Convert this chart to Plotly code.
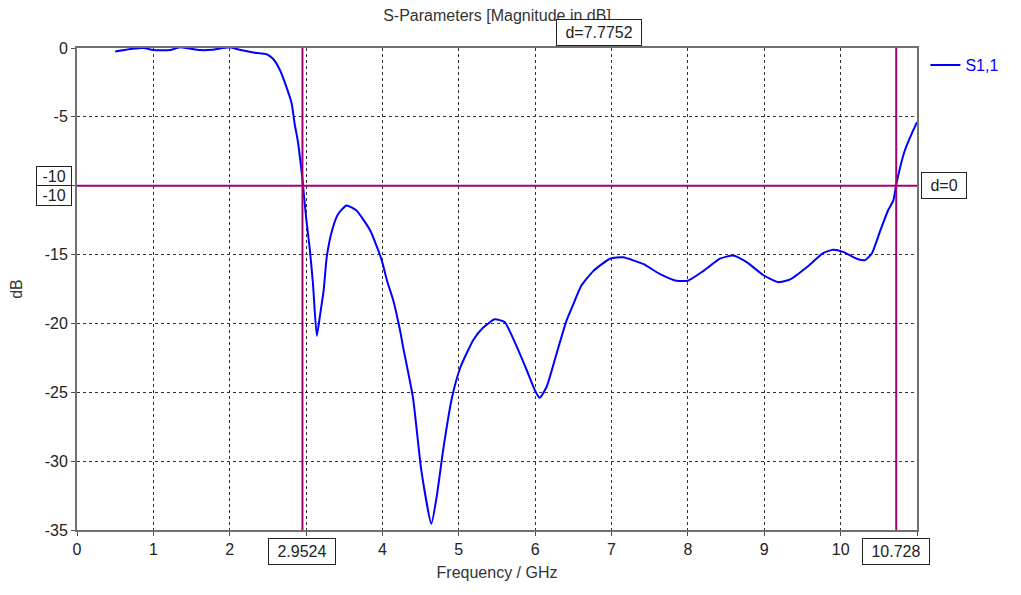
import plotly.graph_objects as go

freq_ghz = [0.5, 0.73, 0.87, 1.0, 1.22, 1.35, 1.61, 1.77, 2.0, 2.13, 2.31, 2.49, 2.57, 2.66,
            2.75, 2.81, 2.85, 2.89, 2.94, 2.96, 3.0, 3.05, 3.09, 3.14, 3.18, 3.23, 3.27, 3.34,
            3.42, 3.53, 3.66, 3.84, 3.99, 4.06, 4.14, 4.23, 4.27, 4.40, 4.51, 4.64, 4.71, 4.80,
            4.91, 5.02, 5.19, 5.32, 5.47, 5.60, 5.76, 5.89, 6.0, 6.06, 6.15, 6.28, 6.41, 6.5,
            6.6, 6.76, 6.98, 7.15, 7.42, 7.63, 7.85, 8.0, 8.2, 8.42, 8.59, 8.77, 8.99, 9.18,
            9.34, 9.56, 9.77, 9.9, 10.03, 10.21, 10.32, 10.41, 10.52, 10.62, 10.69, 10.73,
            10.84, 10.93, 11.0]
s11_db = [-0.25, -0.05, 0.0, -0.15, -0.15, 0.05, -0.15, -0.13, 0.05, -0.13, -0.33, -0.47,
          -0.8, -1.63, -2.95, -4.0, -5.5, -6.7, -8.9, -10.0, -12.3, -14.7, -17.1, -20.9,
          -19.5, -17.6, -15.2, -13.25, -12.05, -11.44, -11.8, -13.25, -15.4, -16.9, -18.3,
          -20.5, -21.7, -25.4, -30.7, -34.55, -32.6, -29.0, -25.4, -23.2, -21.2, -20.3,
          -19.7, -19.9, -21.7, -23.4, -24.9, -25.4, -24.6, -22.2, -19.8, -18.6, -17.3,
          -16.2, -15.3, -15.2, -15.7, -16.4, -16.9, -16.9, -16.2, -15.3, -15.07, -15.55,
          -16.5, -17.0, -16.8, -15.9, -14.9, -14.65, -14.8, -15.3, -15.4, -14.9, -13.25,
          -11.8, -11.07, -9.86, -7.44, -6.23, -5.39]

x_ticks = [0, 1, 2, 3, 4, 5, 6, 7, 8, 9, 10, 11]
x_tick_labels = ["0", "1", "2", "", "4", "5", "6", "7", "8", "9", "10", ""]
y_ticks = [0, -5, -10, -15, -20, -25, -30, -35]
y_tick_labels = ["0", "-5", "", "-15", "-20", "-25", "-30", "-35"]

marker_x1 = 2.9524
marker_x2 = 10.728
marker_y = -10
delta_x_label = "d=7.7752"
delta_y_label = "d=0"

MK = "#a0006e"
FONT = "Liberation Sans"
FS = 16
SP = "&nbsp;"

# page body has an 8px margin, so the figure is sized to fit inside it
W, H = 1005, 579

fig = go.Figure()
fig.add_trace(go.Scatter(x=freq_ghz, y=s11_db, mode="lines", name="S1,1",
                         line=dict(color="#0000ff", width=2, shape="spline", smoothing=0.5)))

axis_common = dict(showline=True, linecolor="#707070", linewidth=2, mirror=True,
                   showgrid=True, gridcolor="#333333", gridwidth=1, griddash="3px,3px",
                   ticks="outside", ticklen=4, tickcolor="#505050", zeroline=False,
                   automargin=False,
                   tickfont=dict(family=FONT, size=FS, color="#222"))

fig.update_xaxes(range=[0, 11], tickvals=x_ticks, ticktext=x_tick_labels,
                 title=dict(text="Frequency / GHz", font=dict(family=FONT, size=FS, color="#333"),
                            standoff=10),
                 **axis_common)
fig.update_yaxes(range=[-35, 0], tickvals=y_ticks, ticktext=y_tick_labels,
                 title=dict(text="dB", font=dict(family=FONT, size=FS, color="#333"), standoff=22),
                 **axis_common)

# marker lines
fig.add_shape(type="line", xref="x", yref="paper", x0=marker_x1, x1=marker_x1, y0=0, y1=1,
              line=dict(color=MK, width=2))
fig.add_shape(type="line", xref="x", yref="paper", x0=marker_x2, x1=marker_x2, y0=0, y1=1,
              line=dict(color=MK, width=2))
fig.add_shape(type="line", xref="paper", yref="y", x0=0, x1=1, y0=marker_y, y1=marker_y,
              line=dict(color=MK, width=2))

box = dict(bgcolor="white", bordercolor="#222", borderwidth=1, borderpad=4,
           font=dict(family=FONT, size=FS, color="#222"), showarrow=False)
fig.add_annotation(x=marker_x1, y=0, xref="x", yref="paper", yanchor="top", yshift=-8,
                   text=SP + f"{marker_x1:.4f}" + SP, **box)
fig.add_annotation(x=marker_x2, y=0, xref="x", yref="paper", yanchor="top", yshift=-8,
                   text=SP + f"{marker_x2:.3f}" + SP, **box)
fig.add_annotation(x=0, y=marker_y, xref="paper", yref="y", xanchor="right", yanchor="bottom",
                   xshift=-5, yshift=-1, text=SP + str(marker_y) + SP,
                   **{**box, "borderpad": 1})
fig.add_annotation(x=0, y=marker_y, xref="paper", yref="y", xanchor="right", yanchor="top",
                   xshift=-5, yshift=1, text=SP + str(marker_y) + SP,
                   **{**box, "borderpad": 1})
fig.add_annotation(x=1, y=marker_y, xref="paper", yref="y", xanchor="left",
                   xshift=4, text=SP + delta_y_label + SP, **box)
fig.add_annotation(x=(marker_x1 + marker_x2) / 2, y=1, xref="x", yref="paper",
                   yanchor="bottom", yshift=2, text=SP + delta_x_label + SP, **box)

fig.update_layout(
    width=W, height=H,
    margin=dict(l=69, r=96, t=40, b=57, autoexpand=False),
    paper_bgcolor="white", plot_bgcolor="white",
    title=dict(text="S-Parameters [Magnitude in dB]", x=(69 + 420) / W, xanchor="center",
               y=1 - 7 / H, yanchor="middle",
               font=dict(family=FONT, size=FS, color="#333")),
    showlegend=True,
    legend=dict(x=1.01, y=1, xanchor="left", yanchor="top", bgcolor="rgba(0,0,0,0)",
                font=dict(family=FONT, size=FS, color="#0000ff")),
)

fig.write_html("out.html")
